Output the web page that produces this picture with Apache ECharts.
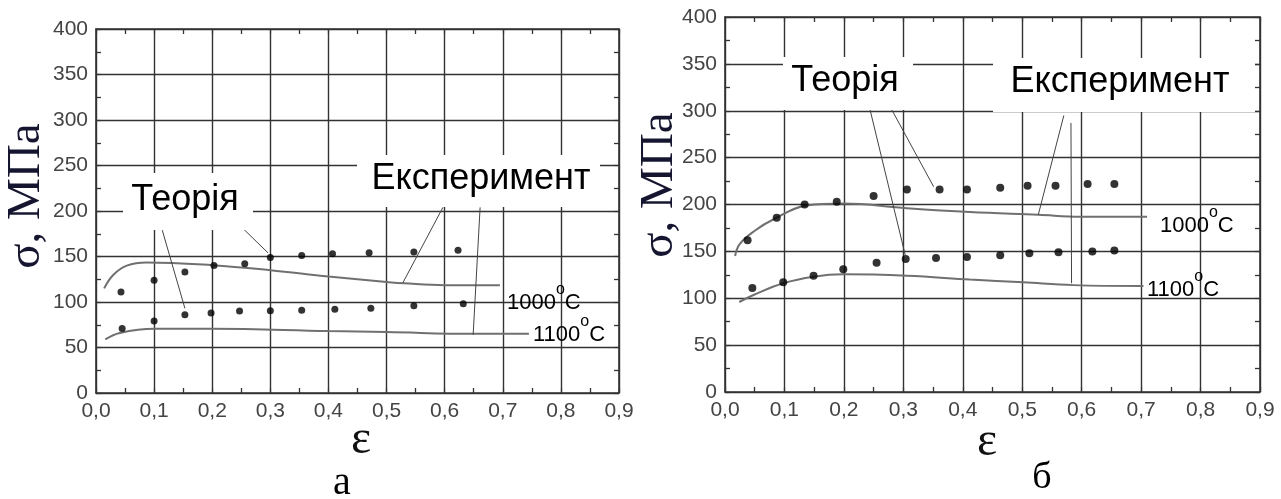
<!DOCTYPE html>
<html>
<head>
<meta charset="utf-8">
<script src="https://cdn.jsdelivr.net/npm/echarts@6/dist/echarts.min.js"></script>
<style>
html, body { margin: 0; padding: 0; background: #fff; }
#chart { width: 1281px; height: 499px; }
</style>
</head>
<body>
<div id="chart"></div>
<script>
// tick labels (comma as decimal separator)
let xTickLabels = ['0,0', '0,1', '0,2', '0,3', '0,4', '0,5', '0,6', '0,7', '0,8', '0,9']
let yTickLabels = ['0', '50', '100', '150', '200', '250', '300', '350', '400']

// panel а: dots
let aDots1000 = [[0.043, 111], [0.1, 124], [0.153, 133], [0.203, 140], [0.256, 142], [0.3, 149],
  [0.354, 151], [0.407, 153], [0.47, 154], [0.547, 155], [0.623, 157]]
let aDots1100 = [[0.045, 71], [0.1, 79], [0.153, 86], [0.198, 88], [0.247, 90], [0.3, 90.5],
  [0.354, 91], [0.411, 92], [0.473, 93], [0.547, 96], [0.632, 98]]
// panel а: curves
let aCurve1000 = [[0.014, 115], [0.03, 130], [0.053, 140], [0.087, 143.5], [0.2, 140.5], [0.3, 135],
  [0.4, 128], [0.5, 122], [0.53, 120.5], [0.6, 118.5], [0.65, 118.5], [0.695, 118.5]]
let aCurve1100 = [[0.016, 59], [0.041, 66], [0.1, 70.5], [0.2, 70.5], [0.4, 68], [0.5, 67],
  [0.65, 65], [0.745, 65]]
// panel а: leader lines
let aLeaders = [
  [[0.114, 179], [0.153, 93]],
  [[0.251, 182], [0.296, 154]],
  [[0.597, 204], [0.528, 121]],
  [[0.661, 204], [0.649, 64]]
]

// panel б: dots
let bDots1000 = [[0.038, 162], [0.087, 186], [0.134, 200], [0.188, 203], [0.25, 209], [0.306, 216],
  [0.361, 216], [0.407, 216], [0.463, 218], [0.509, 220], [0.556, 220], [0.61, 222], [0.655, 222]]
let bDots1100 = [[0.046, 111], [0.098, 117], [0.149, 124], [0.199, 131], [0.255, 138], [0.304, 142],
  [0.355, 143], [0.407, 144], [0.463, 146], [0.512, 148], [0.561, 149], [0.618, 150], [0.655, 151]]
// panel б: curves
let bCurve1000 = [[0.017, 145], [0.025, 158], [0.05, 172], [0.081, 184], [0.1375, 199], [0.199, 201],
  [0.306, 196], [0.412, 192], [0.527, 189], [0.598, 187], [0.71, 187]]
let bCurve1100 = [[0.024, 96], [0.048, 103.5], [0.098, 116], [0.149, 123], [0.199, 125.5], [0.306, 124],
  [0.412, 120], [0.502, 117], [0.586, 114], [0.704, 113]]
// panel б: leader lines
let bLeaders = [
  [[0.241, 309], [0.304, 144]],
  [[0.272, 311], [0.351, 219]],
  [[0.57, 295], [0.527, 189]],
  [[0.582, 287], [0.583, 116]]
]

const lineColor = '#333'
const sans = '"Liberation Sans", Arial, sans-serif'
const serif = '"Liberation Serif", "Times New Roman", serif'

let myChart = echarts.init(document.getElementById('chart'))

// одна вісь (знизу/зверху або зліва/справа)
function makeAxis(kind, gridIndex, position, showLabel) {
  let isX = kind === 'x'
  return {
    type: 'value',
    gridIndex: gridIndex,
    position: position,
    min: 0,
    max: isX ? 0.9 : 400,
    interval: isX ? 0.1 : 50,
    axisLine: { show: true, onZero: false, lineStyle: { color: lineColor, width: 1.6 } },
    axisTick: { show: true, inside: true, length: 5, lineStyle: { color: lineColor, width: 1.2 } },
    minorTick: { show: true, splitNumber: 2, length: 5, lineStyle: { color: lineColor, width: 1.3 } },
    splitLine: { show: showLabel, lineStyle: { color: lineColor, width: 1.4 } },
    axisLabel: {
      show: showLabel,
      margin: 8,
      color: '#444',
      fontFamily: sans,
      fontSize: 21,
      formatter: function (v) {
        return isX ? xTickLabels[Math.round(v * 10)] : yTickLabels[Math.round(v / 50)]
      }
    }
  }
}

function dotSeries(data, g, size) {
  return { type: 'scatter', xAxisIndex: g * 2, yAxisIndex: g * 2, data: data,
    symbolSize: size, itemStyle: { color: '#000' }, z: 5 }
}
function curveSeries(data, g) {
  return { type: 'line', xAxisIndex: g * 2, yAxisIndex: g * 2, data: data, smooth: 0.4,
    showSymbol: false, lineStyle: { color: '#707070', width: 2 }, z: 4 }
}
function leaderSeries(seg, g) {
  return { type: 'line', xAxisIndex: g * 2, yAxisIndex: g * 2, data: seg, showSymbol: false,
    lineStyle: { color: '#444', width: 1 }, z: 6 }
}

let series = [
  dotSeries(aDots1000, 0, 7), dotSeries(aDots1100, 0, 7),
  curveSeries(aCurve1000, 0), curveSeries(aCurve1100, 0),
  dotSeries(bDots1000, 1, 8), dotSeries(bDots1100, 1, 8),
  curveSeries(bCurve1000, 1), curveSeries(bCurve1100, 1)
]
aLeaders.forEach(s => series.push(leaderSeries(s, 0)))
bLeaders.forEach(s => series.push(leaderSeries(s, 1)))

// білі підкладки під написи
function box(x, y, w, h) {
  return { type: 'rect', shape: { x: x, y: y, width: w, height: h }, style: { fill: '#fff' }, z: 50 }
}
function label(text, x, y, size, font, color, rotation) {
  return { type: 'text', x: x, y: y, rotation: rotation || 0, z: 60,
    style: { text: text, fontSize: size, fontFamily: font, fill: color || '#000',
      align: 'center', verticalAlign: 'middle' } }
}
function tempLabel(t, x, y) {
  return { type: 'text', x: x, y: y, z: 60,
    style: {
      text: '{n|' + t + '}{s|o}{n|C}',
      align: 'left', verticalAlign: 'middle',
      rich: {
        n: { fontSize: 22, fontFamily: sans, color: '#222', lineHeight: 32, verticalAlign: 'bottom' },
        s: { fontSize: 16, fontFamily: sans, color: '#222', lineHeight: 16, verticalAlign: 'top' }
      }
    } }
}

let graphic = [
  box(123, 173, 130, 57), box(357, 155, 243, 52),
  box(783, 57, 130, 53), box(993, 58, 262, 54),
  label('Теорія', 185, 200, 36, sans, '#000'),
  label('Експеримент', 481, 179, 36, sans, '#000'),
  label('Теорія', 845, 81, 36, sans, '#000'),
  label('Експеримент', 1120, 82, 36, sans, '#000'),
  tempLabel('1000', 507, 298), tempLabel('1100', 533, 330),
  tempLabel('1000', 1160, 221), tempLabel('1100', 1147, 285),
  label('σ, МПа', 27, 196, 47, serif, '#151530', Math.PI / 2),
  label('σ, МПа', 660, 185, 47, serif, '#151530', Math.PI / 2),
  label('ε', 361, 440, 48, serif, '#111'),
  label('ε', 987, 442, 48, serif, '#111'),
  label('а', 342, 483, 40, serif, '#000'),
  label('б', 1042, 478, 38, serif, '#000')
]

myChart.setOption({
  animation: false,
  backgroundColor: '#fff',
  grid: [
    { left: 96, top: 29, width: 523, height: 364 },
    { left: 725, top: 17, width: 535, height: 375 }
  ],
  xAxis: [
    makeAxis('x', 0, 'bottom', true), makeAxis('x', 0, 'top', false),
    makeAxis('x', 1, 'bottom', true), makeAxis('x', 1, 'top', false)
  ],
  yAxis: [
    makeAxis('y', 0, 'left', true), makeAxis('y', 0, 'right', false),
    makeAxis('y', 1, 'left', true), makeAxis('y', 1, 'right', false)
  ],
  series: series,
  graphic: graphic
})
</script>
</body>
</html>
